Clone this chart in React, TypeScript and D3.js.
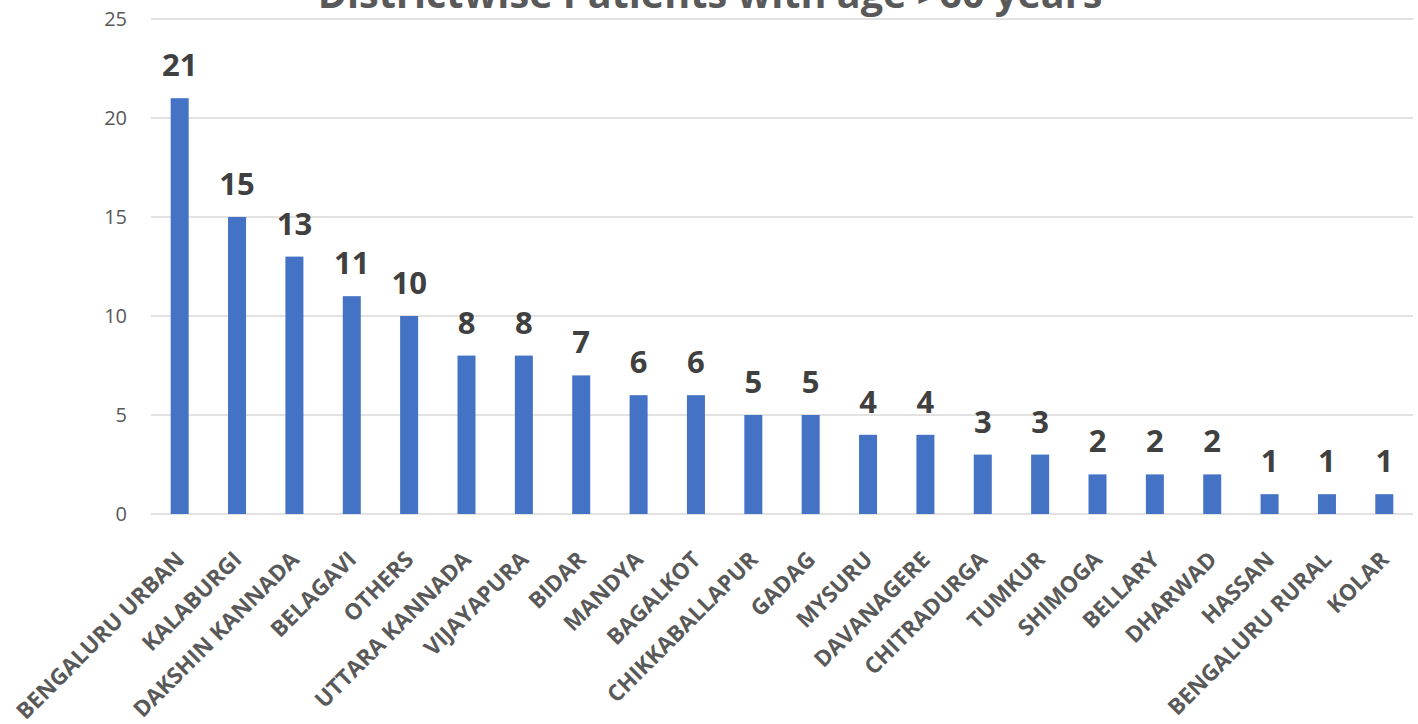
import React, { useEffect, useRef } from "react";
import * as d3 from "d3";

const categories = [
  "BENGALURU URBAN", "KALABURGI", "DAKSHIN KANNADA", "BELAGAVI", "OTHERS",
  "UTTARA KANNADA", "VIJAYAPURA", "BIDAR", "MANDYA", "BAGALKOT",
  "CHIKKABALLAPUR", "GADAG", "MYSURU", "DAVANAGERE", "CHITRADURGA",
  "TUMKUR", "SHIMOGA", "BELLARY", "DHARWAD", "HASSAN", "BENGALURU RURAL", "KOLAR",
];
const values = [21, 15, 13, 11, 10, 8, 8, 7, 6, 6, 5, 5, 4, 4, 3, 3, 2, 2, 2, 1, 1, 1];
const yTicks = [0, 5, 10, 15, 20, 25];
const title = "Districtwise Patients with age >60 years";

const W = 1418, H = 724;
const M = { left: 151, right: 5, top: 19, bottom: 210 };

export default function App() {
  const ref = useRef<SVGSVGElement>(null);
  useEffect(() => {
    const svg = d3.select(ref.current);
    svg.selectAll("*").remove();
    const font = "'Open Sans', sans-serif";
    const x = d3.scaleBand().domain(categories).range([M.left, W - M.right]).paddingInner(0).paddingOuter(0);
    const y = d3.scaleLinear().domain([0, 25]).range([H - M.bottom, M.top]);

    const g = svg.append("g");
    g.selectAll("line.grid").data(yTicks).join("line")
      .attr("x1", M.left).attr("x2", W - M.right)
      .attr("y1", d => y(d)).attr("y2", d => y(d))
      .attr("stroke", "#d9d9d9").attr("stroke-width", 1.3);

    g.selectAll("text.ytick").data(yTicks).join("text")
      .attr("x", 127).attr("y", d => y(d)).attr("dy", "0.36em")
      .attr("text-anchor", "end").attr("font-family", font).attr("font-size", 20)
      .attr("fill", "#595959").text(d => String(d));

    const bw = 18;
    g.selectAll("rect.bar").data(values).join("rect")
      .attr("x", (_, i) => x(categories[i])! + x.bandwidth() / 2 - bw / 2)
      .attr("y", d => y(d)).attr("width", bw).attr("height", d => y(0) - y(d))
      .attr("fill", "#4472c4");

    g.selectAll("text.val").data(values).join("text")
      .attr("x", (_, i) => x(categories[i])! + x.bandwidth() / 2)
      .attr("y", d => y(d) - 22)
      .attr("text-anchor", "middle").attr("font-family", font).attr("font-weight", "bold")
      .attr("font-size", 31).attr("fill", "#404040").text(d => String(d));

    g.selectAll("text.cat").data(categories).join("text")
      .attr("transform", d => `translate(${x(d)! + x.bandwidth() / 2 + 6},${y(0) + 47}) rotate(-45)`)
      .attr("text-anchor", "end").attr("font-family", font).attr("font-weight", "bold")
      .attr("font-size", 22.5).attr("fill", "#595959").text(d => d);

    svg.append("text").attr("x", 710).attr("y", 8).attr("text-anchor", "middle")
      .attr("font-family", font).attr("font-weight", "bold").attr("font-size", 39.6)
      .attr("fill", "#595959").text(title);
  }, []);
  return <svg ref={ref} width={W} height={H} style={{ position: "absolute", left: 0, top: 0 }} />;
}
